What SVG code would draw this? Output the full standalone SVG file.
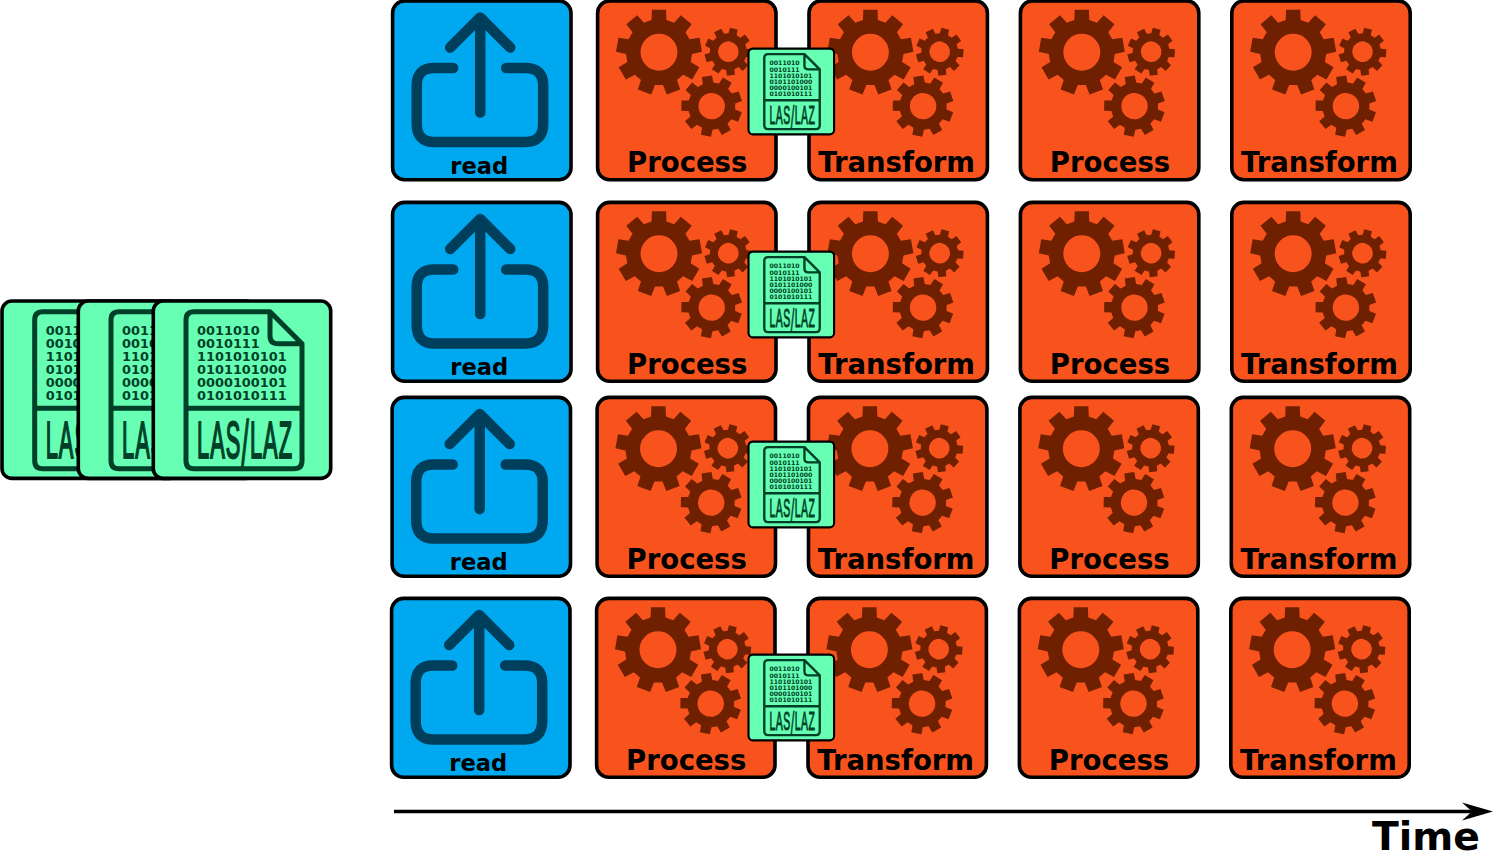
<svg xmlns="http://www.w3.org/2000/svg" width="1494" height="852" viewBox="0 0 1494 852">
<style>
.tile{stroke:#000;stroke-width:3.6}
.t{x:-.6px;y:-.6px;width:178.400px;height:178.800px}
.proc{fill:#f8531d}
.rd{fill:#00a8f0}
.card{fill:#66ffb3;stroke:#000}
.big{x:-.7px;y:-.7px;width:177.400px;height:177.400px}
.small{x:-1px;y:-1.500px;width:179px;height:179.500px}
.gear{fill:#6e2000;fill-rule:evenodd}
.up{fill:none;stroke:#003f5c;stroke-width:10.5;stroke-linecap:round;stroke-linejoin:round}
.docl{fill:none;stroke:#003f28;stroke-width:5;stroke-linejoin:round}
text{font-family:"DejaVu Sans",sans-serif;font-weight:700}
.lbl{font-size:27.5px;text-anchor:middle;fill:#000}
.rl{font-size:22.6px;text-anchor:middle;fill:#000}
.bin{font-size:12.9px;fill:#003f28}
.las{font-family:"Liberation Sans",sans-serif;font-weight:400;font-size:52px;letter-spacing:2.4px;fill:#003f28;stroke:#003f28;stroke-width:2}
</style>
<defs>
<path id="gear" class="gear" d="M17.300-75L16.500-98.600L-16.500-98.600L-17.300-75L-35-68.600L-50.800-86.200L-76-64.900L-61.500-46.300L-70.900-30.100L-94.300-33.400L-100-.9L-76.900 4L-73.600 22.500L-93.700 35L-77.200 63.600L-56.300 52.500L-41.900 64.600L-49.200 87L-18.200 98.300L-9.400 76.400L9.400 76.400L18.200 98.300L49.200 87L41.900 64.600L56.300 52.500L77.200 63.600L93.700 35L73.600 22.500L76.900 4L100-.9L94.300-33.400L70.900-30.100L61.500-46.300L76-64.900L50.800-86.200L35-68.600ZM43 0A43 43 0 1 0-43 0A43 43 0 1 0 43 0Z"/>
<g id="gears">
<use href="#gear" transform="translate(60.800 50.700) scale(.43)"/>
<use href="#gear" transform="translate(113.500 104.600) rotate(-9) scale(.307)"/>
<use href="#gear" transform="translate(130.100 50.200) rotate(13.600) scale(.24)"/>
</g>
<g id="upload">
<path class="up" d="M87 111V16M57 46L87 16L117 46M60 66.500H41Q23.500 66.500 23.500 84V122Q23.500 140.500 41 140.500H132Q150 140.500 150 122V84Q150 66.500 132 66.500H113"/>
</g>
<g id="docicon">
<path class="docl" d="M40 10H116L148 42V159Q148 167 140 167H40Q32 167 32 159V18Q32 10 40 10ZM116 10V34Q116 42 124 42H148M32 106.500H148"/>
</g>
<marker id="head" markerUnits="userSpaceOnUse" markerWidth="32" markerHeight="20" refX="10" refY="9.500" orient="auto">
<path d="M0 0.500L31 9.500L0 18.500L10 9.500Z" fill="#000"/>
</marker>
</defs>
<g id="connectors">
<path id="time-axis" d="M394 811.500H1472" fill="none" stroke="#000" stroke-width="3.3" marker-end="url(#head)"/>
</g>
<text id="time-label" x="1426" y="850" font-size="39.300" text-anchor="middle">Time</text>

<g id="input-1" transform="translate(2.700 301.700)"><rect class="card big" rx="10" stroke-width="3.600"/><use href="#docicon"/><text class="bin" x="43" y="33.500">0011010<tspan x="43" y="46.500">0010111</tspan><tspan x="43" y="59.500">1101010101</tspan><tspan x="43" y="72.500">0101101000</tspan><tspan x="43" y="85.500">0000100101</tspan><tspan x="43" y="98.500">0101010111</tspan></text><text class="las" transform="translate(43 156.500) scale(.42 1)">LAS<tspan font-size="65" dy="8" stroke-width="1.500">/</tspan><tspan dy="-8">LAZ</tspan></text></g>
<g id="input-2" transform="translate(79 301.700)"><rect class="card big" rx="10" stroke-width="3.600"/><use href="#docicon"/><text class="bin" x="43" y="33.500">0011010<tspan x="43" y="46.500">0010111</tspan><tspan x="43" y="59.500">1101010101</tspan><tspan x="43" y="72.500">0101101000</tspan><tspan x="43" y="85.500">0000100101</tspan><tspan x="43" y="98.500">0101010111</tspan></text><text class="las" transform="translate(43 156.500) scale(.42 1)">LAS<tspan font-size="65" dy="8" stroke-width="1.500">/</tspan><tspan dy="-8">LAZ</tspan></text></g>
<g id="input-3" transform="translate(154 301.700)"><rect class="card big" rx="10" stroke-width="3.600"/><use href="#docicon"/><text class="bin" x="43" y="33.500">0011010<tspan x="43" y="46.500">0010111</tspan><tspan x="43" y="59.500">1101010101</tspan><tspan x="43" y="72.500">0101101000</tspan><tspan x="43" y="85.500">0000100101</tspan><tspan x="43" y="98.500">0101010111</tspan></text><text class="las" transform="translate(43 156.500) scale(.42 1)">LAS<tspan font-size="65" dy="8" stroke-width="1.500">/</tspan><tspan dy="-8">LAZ</tspan></text></g>

<g id="r1-read" transform="translate(393.200 1.500)"><rect class="tile t rd" rx="12"/><use href="#upload"/><text class="rl" x="86" y="172.500">read</text></g>
<g id="r1-process-1" transform="translate(598.200 1.500)"><rect class="tile t proc" rx="12"/><use href="#gears"/><text class="lbl" x="89" y="170.500">Process</text></g>
<g id="r1-transform-1" transform="translate(809.600 1.500)"><rect class="tile t proc" rx="12"/><use href="#gears"/><text class="lbl" x="87" y="170.500">Transform</text></g>
<g id="r1-process-2" transform="translate(1021 1.500)"><rect class="tile t proc" rx="12"/><use href="#gears"/><text class="lbl" x="89" y="170.500">Process</text></g>
<g id="r1-transform-2" transform="translate(1232.400 1.500)"><rect class="tile t proc" rx="12"/><use href="#gears"/><text class="lbl" x="87" y="170.500">Transform</text></g>

<g id="r2-read" transform="translate(393.200 203)"><rect class="tile t rd" rx="12"/><use href="#upload"/><text class="rl" x="86" y="171.500">read</text></g>
<g id="r2-process-1" transform="translate(598.200 203)"><rect class="tile t proc" rx="12"/><use href="#gears"/><text class="lbl" x="89" y="170.500">Process</text></g>
<g id="r2-transform-1" transform="translate(809.600 203)"><rect class="tile t proc" rx="12"/><use href="#gears"/><text class="lbl" x="87" y="170.500">Transform</text></g>
<g id="r2-process-2" transform="translate(1021 203)"><rect class="tile t proc" rx="12"/><use href="#gears"/><text class="lbl" x="89" y="170.500">Process</text></g>
<g id="r2-transform-2" transform="translate(1232.400 203)"><rect class="tile t proc" rx="12"/><use href="#gears"/><text class="lbl" x="87" y="170.500">Transform</text></g>

<g id="r3-read" transform="translate(392.700 398)"><rect class="tile t rd" rx="12"/><use href="#upload"/><text class="rl" x="86" y="171.500">read</text></g>
<g id="r3-process-1" transform="translate(597.700 398)"><rect class="tile t proc" rx="12"/><use href="#gears"/><text class="lbl" x="89" y="170.500">Process</text></g>
<g id="r3-transform-1" transform="translate(809.100 398)"><rect class="tile t proc" rx="12"/><use href="#gears"/><text class="lbl" x="87" y="170.500">Transform</text></g>
<g id="r3-process-2" transform="translate(1020.500 398)"><rect class="tile t proc" rx="12"/><use href="#gears"/><text class="lbl" x="89" y="170.500">Process</text></g>
<g id="r3-transform-2" transform="translate(1231.900 398)"><rect class="tile t proc" rx="12"/><use href="#gears"/><text class="lbl" x="87" y="170.500">Transform</text></g>

<g id="r4-read" transform="translate(392.200 599)"><rect class="tile t rd" rx="12"/><use href="#upload"/><text class="rl" x="86" y="171.500">read</text></g>
<g id="r4-process-1" transform="translate(597.200 599)"><rect class="tile t proc" rx="12"/><use href="#gears"/><text class="lbl" x="89" y="170.500">Process</text></g>
<g id="r4-transform-1" transform="translate(808.600 599)"><rect class="tile t proc" rx="12"/><use href="#gears"/><text class="lbl" x="87" y="170.500">Transform</text></g>
<g id="r4-process-2" transform="translate(1020 599)"><rect class="tile t proc" rx="12"/><use href="#gears"/><text class="lbl" x="89" y="170.500">Process</text></g>
<g id="r4-transform-2" transform="translate(1231.400 599)"><rect class="tile t proc" rx="12"/><use href="#gears"/><text class="lbl" x="87" y="170.500">Transform</text></g>

<g id="r1-file" transform="translate(749 49.300) scale(.478)"><rect class="card small" rx="9" stroke-width="4.400"/><use href="#docicon"/><text class="bin" x="43" y="33.500">0011010<tspan x="43" y="46.500">0010111</tspan><tspan x="43" y="59.500">1101010101</tspan><tspan x="43" y="72.500">0101101000</tspan><tspan x="43" y="85.500">0000100101</tspan><tspan x="43" y="98.500">0101010111</tspan></text><text class="las" transform="translate(43 156.500) scale(.42 1)">LAS<tspan font-size="65" dy="8" stroke-width="1.500">/</tspan><tspan dy="-8">LAZ</tspan></text></g>
<g id="r2-file" transform="translate(749 252.300) scale(.478)"><rect class="card small" rx="9" stroke-width="4.400"/><use href="#docicon"/><text class="bin" x="43" y="33.500">0011010<tspan x="43" y="46.500">0010111</tspan><tspan x="43" y="59.500">1101010101</tspan><tspan x="43" y="72.500">0101101000</tspan><tspan x="43" y="85.500">0000100101</tspan><tspan x="43" y="98.500">0101010111</tspan></text><text class="las" transform="translate(43 156.500) scale(.42 1)">LAS<tspan font-size="65" dy="8" stroke-width="1.500">/</tspan><tspan dy="-8">LAZ</tspan></text></g>
<g id="r3-file" transform="translate(749 442.300) scale(.478)"><rect class="card small" rx="9" stroke-width="4.400"/><use href="#docicon"/><text class="bin" x="43" y="33.500">0011010<tspan x="43" y="46.500">0010111</tspan><tspan x="43" y="59.500">1101010101</tspan><tspan x="43" y="72.500">0101101000</tspan><tspan x="43" y="85.500">0000100101</tspan><tspan x="43" y="98.500">0101010111</tspan></text><text class="las" transform="translate(43 156.500) scale(.42 1)">LAS<tspan font-size="65" dy="8" stroke-width="1.500">/</tspan><tspan dy="-8">LAZ</tspan></text></g>
<g id="r4-file" transform="translate(749 655.300) scale(.478)"><rect class="card small" rx="9" stroke-width="4.400"/><use href="#docicon"/><text class="bin" x="43" y="33.500">0011010<tspan x="43" y="46.500">0010111</tspan><tspan x="43" y="59.500">1101010101</tspan><tspan x="43" y="72.500">0101101000</tspan><tspan x="43" y="85.500">0000100101</tspan><tspan x="43" y="98.500">0101010111</tspan></text><text class="las" transform="translate(43 156.500) scale(.42 1)">LAS<tspan font-size="65" dy="8" stroke-width="1.500">/</tspan><tspan dy="-8">LAZ</tspan></text></g>
</svg>
